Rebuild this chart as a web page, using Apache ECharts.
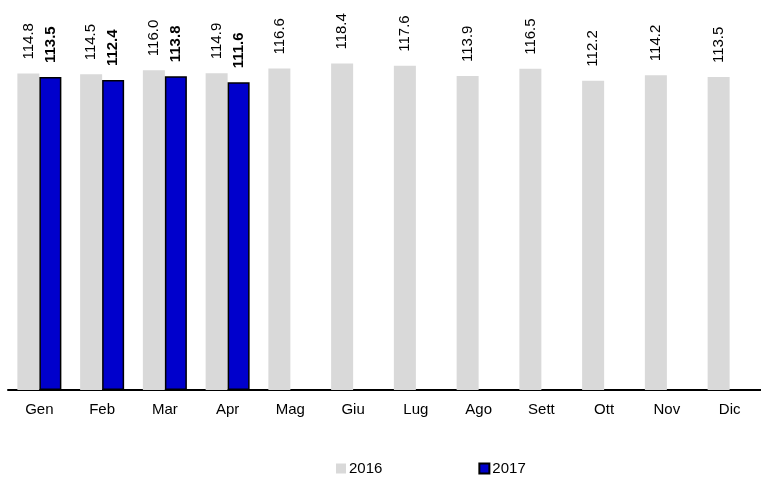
<!DOCTYPE html>
<html>
<head>
<meta charset="utf-8">
<script src="https://cdn.jsdelivr.net/npm/echarts@6/dist/echarts.min.js"></script>
<style>
html,body{margin:0;padding:0;background:#fff;}
#c{width:761px;height:484px;}
</style>
</head>
<body>
<div id="c"></div>
<script>
var categories = ['Gen','Feb','Mar','Apr','Mag','Giu','Lug','Ago','Sett','Ott','Nov','Dic'];
var values2016 = [114.8,114.5,116.0,114.9,116.6,118.4,117.6,113.9,116.5,112.2,114.2,113.5];
var values2017 = [113.5,112.4,113.8,111.6,null,null,null,null,null,null,null,null];
var seriesNames = ['2016','2017'];

var chart = echarts.init(document.getElementById('c'), null, {renderer:'canvas'});
var fontFam = 'Liberation Sans, Arial, sans-serif';
chart.setOption({
  animation:false,
  backgroundColor:'#fff',
  grid:{left:8, right:-5, top:4, bottom:94, containLabel:false},
  legend:{
    left:331, top:456, itemGap:96, itemWidth:10, itemHeight:10,
    textStyle:{fontFamily:fontFam, fontSize:15, color:'#000', padding:[0,0,0,-2]},
    data:[{name:'2016', icon:'rect'},{name:'2017', icon:'rect'}]
  },
  xAxis:{
    type:'category', data:categories,
    axisLine:{lineStyle:{color:'#000', width:2}},
    axisTick:{show:false},
    axisLabel:{fontFamily:fontFam, fontSize:15, color:'#000', margin:12}
  },
  yAxis:{
    type:'value', min:0, max:140, show:false,
    splitLine:{show:false}
  },
  series:[
    {
      name:seriesNames[0], type:'bar', data:values2016, barWidth:22, barGap:'0%',
      itemStyle:{color:'#D9D9D9'},
      label:{show:true, position:'top', rotate:90, align:'left', verticalAlign:'middle',
        distance:14, fontFamily:fontFam, fontSize:15, color:'#000',
        formatter:function(p){return p.value.toFixed(1);}}
    },
    {
      name:seriesNames[1], type:'bar', data:values2017, barWidth:22,
      itemStyle:{color:'#0000CC', borderColor:'#000', borderWidth:1.5},
      label:{show:true, position:'top', rotate:90, align:'left', verticalAlign:'middle',
        distance:14, fontFamily:fontFam, fontSize:15, fontWeight:'bold', color:'#000',
        formatter:function(p){return p.value==null?'':p.value.toFixed(1);}}
    }
  ]
});
</script>
</body>
</html>
